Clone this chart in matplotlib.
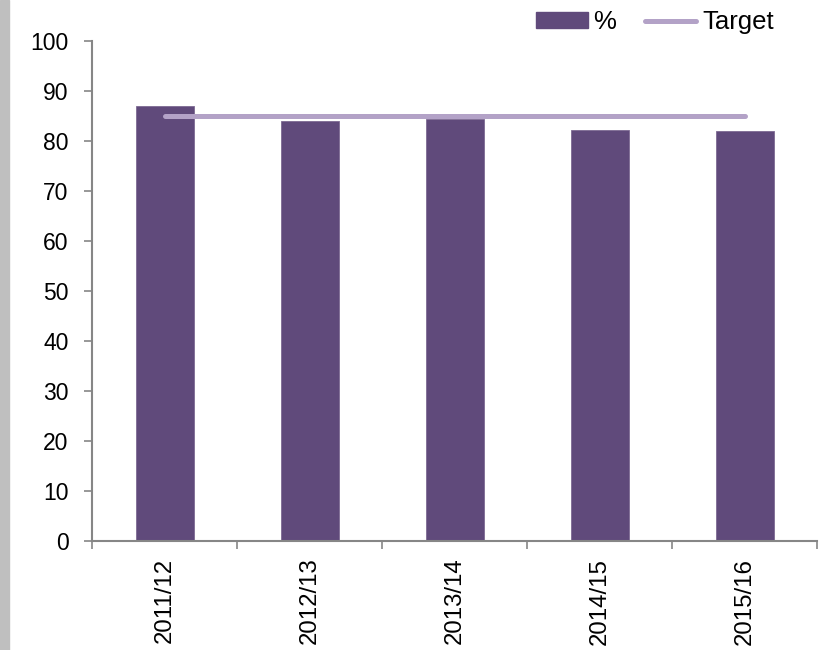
import matplotlib
matplotlib.use('Agg')
import matplotlib.pyplot as plt
from matplotlib.patches import Rectangle
from matplotlib.lines import Line2D
import numpy as np

plt.rcParams['font.family'] = ['Liberation Sans', 'DejaVu Sans']

# data
years = ['2011/12', '2012/13', '2013/14', '2014/15', '2015/16']
pct = [87.0, 84.0, 84.4, 82.2, 82.1]
target = [85, 85, 85, 85, 85]

bar_color = '#604A7B'
line_color = '#B3A2C7'
axis_color = '#868686'

fig = plt.figure(figsize=(8.22, 6.5), dpi=100)
ax = fig.add_axes([92/822, 109/650, 725/822, 500/650])

# gray strip on the left edge
fig.patches.append(Rectangle((0, 0), 9/822, 1, transform=fig.transFigure,
                             color='#BFBFBF', zorder=0))

x = np.arange(len(years))
ax.bar(x, pct, width=0.4, color=bar_color, edgecolor='#7D6A93', linewidth=0.6, zorder=2)
ax.plot(x, target, color=line_color, linewidth=3.6, solid_capstyle='round', zorder=3)

ax.set_xlim(-0.5, len(years) - 0.5)
ax.set_ylim(0, 100)
ax.set_yticks(range(0, 101, 10))

# ticks at category boundaries, labels at centres
ax.set_xticks(np.arange(-0.5, len(years), 1.0))
ax.set_xticklabels([])
ax.set_xticks(x, minor=True)
ax.set_xticklabels(years, minor=True, rotation=90, fontsize=17.3)
ax.tick_params(axis='x', which='minor', length=0, pad=12)
ax.tick_params(axis='x', which='major', length=6, width=1.2, color=axis_color)
ax.tick_params(axis='y', length=6, width=1.2, color=axis_color, pad=11, labelsize=16.5)

for side in ['top', 'right']:
    ax.spines[side].set_visible(False)
for side in ['left', 'bottom']:
    ax.spines[side].set_color(axis_color)
    ax.spines[side].set_linewidth(1.5)

handles = [Rectangle((0, 0), 1, 1, color=bar_color),
           Line2D([0], [0], color=line_color, linewidth=3.6, solid_capstyle='round')]
fig.legend(handles, ['%', 'Target'], loc='center', bbox_to_anchor=(655/822, 1 - 22/650),
           ncol=2, frameon=False, fontsize=18.5, handlelength=2.0, handleheight=0.55,
           handletextpad=0.23, columnspacing=1.1, borderpad=0)

fig.savefig('out.png', dpi=100)
